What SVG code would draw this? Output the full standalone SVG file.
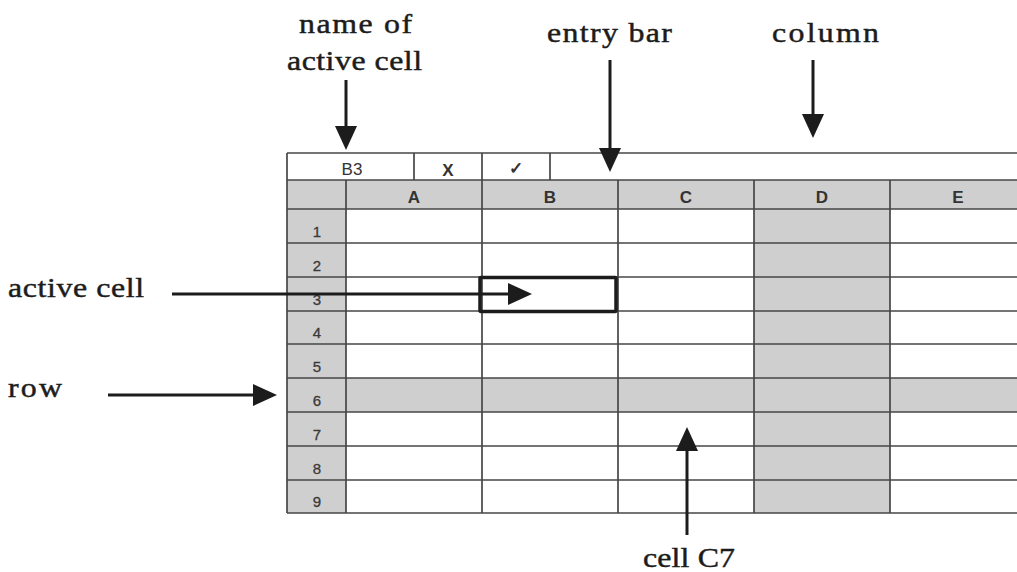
<svg xmlns="http://www.w3.org/2000/svg" width="1017" height="572" viewBox="0 0 1017 572">
  <style>
    .label { font-family: "Liberation Serif", "Times New Roman", serif; font-size: 27px; fill: #1c1c1c; stroke: #1c1c1c; stroke-width: 0.45; }
    .shade { fill: #cfcfcf; }
    .rule { stroke: #474747; stroke-width: 1.7; fill: none; }
    .colhead { font-family: "Liberation Sans", Arial, sans-serif; font-size: 17px; font-weight: bold; fill: #333; text-anchor: middle; }
    .rownum { font-family: "Liberation Sans", Arial, sans-serif; font-size: 15px; fill: #3a3a3a; stroke: #3a3a3a; stroke-width: 0.3; text-anchor: middle; }
    .bar { font-family: "Liberation Sans", Arial, sans-serif; font-size: 17px; fill: #333; text-anchor: middle; }
    .arrow { stroke: #1c1c1c; stroke-width: 3; fill: none; marker-end: url(#head); }
  </style>
  <defs>
    <marker id="head" markerUnits="userSpaceOnUse" markerWidth="24" markerHeight="22" viewBox="0 0 24 22" refX="14" refY="11" orient="auto">
      <path d="M0,0 L24,11 L0,22 Z" fill="#1c1c1c"/>
    </marker>
  </defs>

  <rect width="1017" height="572" fill="#ffffff"/>

  <!-- worksheet -->
  <g id="sheet">
    <!-- shaded header row, row-number column, column D and row 6 -->
    <rect class="shade" x="287" y="180" width="730" height="29"/>
    <rect class="shade" x="287" y="180" width="59" height="333"/>
    <rect class="shade" x="754" y="209" width="136" height="304"/>
    <rect class="shade" x="346" y="378" width="671" height="34"/>

    <!-- entry bar outline -->
    <path class="rule" d="M287,153 H1017 M287,153 V513 M414,153 V180 M482,153 V180 M550,153 V180"/>
    <!-- column and row rules -->
    <path class="rule" d="M287,180 H1017 M287,209 H1017 M287,243 H1017 M287,277 H1017 M287,311 H1017 M287,344 H1017 M287,378 H1017 M287,412 H1017 M287,446 H1017 M287,480 H1017 M287,513 H1017"/>
    <path class="rule" d="M346,180 V513 M482,180 V513 M618,180 V513 M754,180 V513 M890,180 V513"/>

    <!-- entry bar contents -->
    <text class="bar" x="352" y="175">B3</text>
    <text class="bar" x="448" y="176" font-weight="bold">X</text>
    <text class="bar" x="516" y="174" font-family="DejaVu Sans, sans-serif" font-size="16" font-weight="bold">✓</text>

    <!-- column letters -->
    <text class="colhead" x="414" y="203">A</text>
    <text class="colhead" x="550" y="203">B</text>
    <text class="colhead" x="686" y="203">C</text>
    <text class="colhead" x="822" y="203">D</text>
    <text class="colhead" x="958" y="203">E</text>

    <!-- row numbers -->
    <text class="rownum" x="317" y="237">1</text>
    <text class="rownum" x="317" y="271">2</text>
    <text class="rownum" x="317" y="305">3</text>
    <text class="rownum" x="317" y="338">4</text>
    <text class="rownum" x="317" y="372">5</text>
    <text class="rownum" x="317" y="406">6</text>
    <text class="rownum" x="317" y="440">7</text>
    <text class="rownum" x="317" y="474">8</text>
    <text class="rownum" x="317" y="507">9</text>

    <!-- active cell B3 -->
    <rect x="480" y="277.5" width="136" height="34" rx="1" fill="none" stroke="#1c1c1c" stroke-width="3.5"/>
  </g>

  <!-- callout labels (serif, slightly widened) -->
  <g id="label-name">
    <text class="label" transform="translate(299,33) scale(1.18,1)" textLength="95.8" lengthAdjust="spacing">name of</text>
    <text class="label" transform="translate(287,70) scale(1.18,1)" textLength="114.4" lengthAdjust="spacing">active cell</text>
  </g>
  <g id="label-entry">
    <text class="label" transform="translate(547,42) scale(1.18,1)" textLength="105.9" lengthAdjust="spacing">entry bar</text>
  </g>
  <g id="label-column">
    <text class="label" transform="translate(772,42) scale(1.18,1)" textLength="90.7" lengthAdjust="spacing">column</text>
  </g>
  <g id="label-active">
    <text class="label" transform="translate(8,297) scale(1.18,1)" textLength="115.3" lengthAdjust="spacing">active cell</text>
  </g>
  <g id="label-row">
    <text class="label" transform="translate(8,397) scale(1.18,1)" textLength="45.8" lengthAdjust="spacing">row</text>
  </g>
  <g id="label-c7">
    <text class="label" transform="translate(643,567) scale(1.18,1)" textLength="78" lengthAdjust="spacing">cell C7</text>
  </g>

  <!-- connectors -->
  <g id="connectors">
    <line class="arrow" x1="346" y1="80" x2="346" y2="140"/>
    <line class="arrow" x1="610" y1="60" x2="610" y2="162"/>
    <line class="arrow" x1="813" y1="60" x2="813" y2="128"/>
    <line class="arrow" x1="172" y1="294" x2="522" y2="294"/>
    <line class="arrow" x1="108" y1="395" x2="267" y2="395"/>
    <line class="arrow" x1="687" y1="535" x2="687" y2="437"/>
  </g>
</svg>
